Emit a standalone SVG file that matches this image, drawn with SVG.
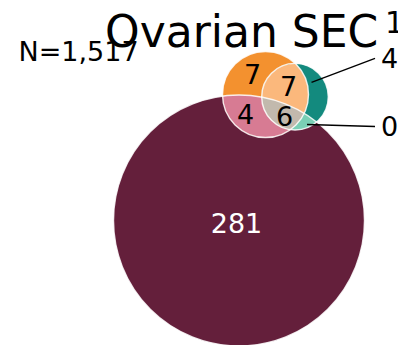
<svg xmlns="http://www.w3.org/2000/svg" width="398" height="345" viewBox="0 0 398 345">
<style>
.t{font-family:"DejaVu Sans",Verdana,sans-serif;fill:#000}
.lbl{font-family:"DejaVu Sans",Verdana,sans-serif;font-size:27px;fill:#000;text-anchor:middle}
.edge{fill:none;stroke:#fff;stroke-width:1.4;stroke-opacity:0.85}
.lead{stroke:#000;stroke-width:1.3;fill:none}
</style>
<defs>
<clipPath id="cBig"><circle cx="239" cy="220.5" r="125.5"/></clipPath>
<clipPath id="cOr"><circle cx="265.5" cy="94.5" r="43"/></clipPath>
</defs>
<g id="set-big"><circle cx="239" cy="220.5" r="125.5" fill="#641f3b"/></g>
<g id="set-orange"><circle cx="265.5" cy="94.5" r="43" fill="#f3912f"/></g>
<g id="set-teal"><circle cx="295" cy="96.7" r="33.3" fill="#138a7e"/></g>
<g id="region-orange-big"><circle cx="265.5" cy="94.5" r="43" fill="#d77b93" clip-path="url(#cBig)"/></g>
<g id="region-teal-big"><circle cx="295" cy="96.7" r="33.3" fill="#7acfb5" clip-path="url(#cBig)"/></g>
<g id="region-orange-teal"><circle cx="295" cy="96.7" r="33.3" fill="#fbb87c" clip-path="url(#cOr)"/></g>
<g id="region-all" clip-path="url(#cBig)"><circle cx="295" cy="96.7" r="33.3" fill="#c2b9ad" clip-path="url(#cOr)"/></g>
<g id="outlines">
<circle class="edge" cx="239" cy="220.5" r="125.5"/>
<circle class="edge" cx="265.5" cy="94.5" r="43"/>
<circle class="edge" cx="295" cy="96.7" r="33.3"/>
</g>
<g id="connectors">
<line class="lead" x1="311.5" y1="82.3" x2="375" y2="58.3"/>
<line class="lead" x1="307" y1="124.5" x2="375" y2="126.5"/>
</g>
<g id="labels">
<text class="lbl" x="236.5" y="233" style="fill:#fff">281</text>
<text class="lbl" x="252.5" y="84">7</text>
<text class="lbl" x="288.5" y="96">7</text>
<text class="lbl" x="245.5" y="124">4</text>
<text class="lbl" x="284.5" y="126">6</text>
<text class="lbl" x="389.5" y="68">4</text>
<text class="lbl" x="389.5" y="136">0</text>
</g>
<g id="title">
<text class="t" x="18.5" y="61" font-size="27">N=1,517</text>
<text class="t" x="105" y="47" font-size="44">Ovarian SEC</text>
<text class="t" x="385" y="33" font-size="30">1</text>
</g>
</svg>
